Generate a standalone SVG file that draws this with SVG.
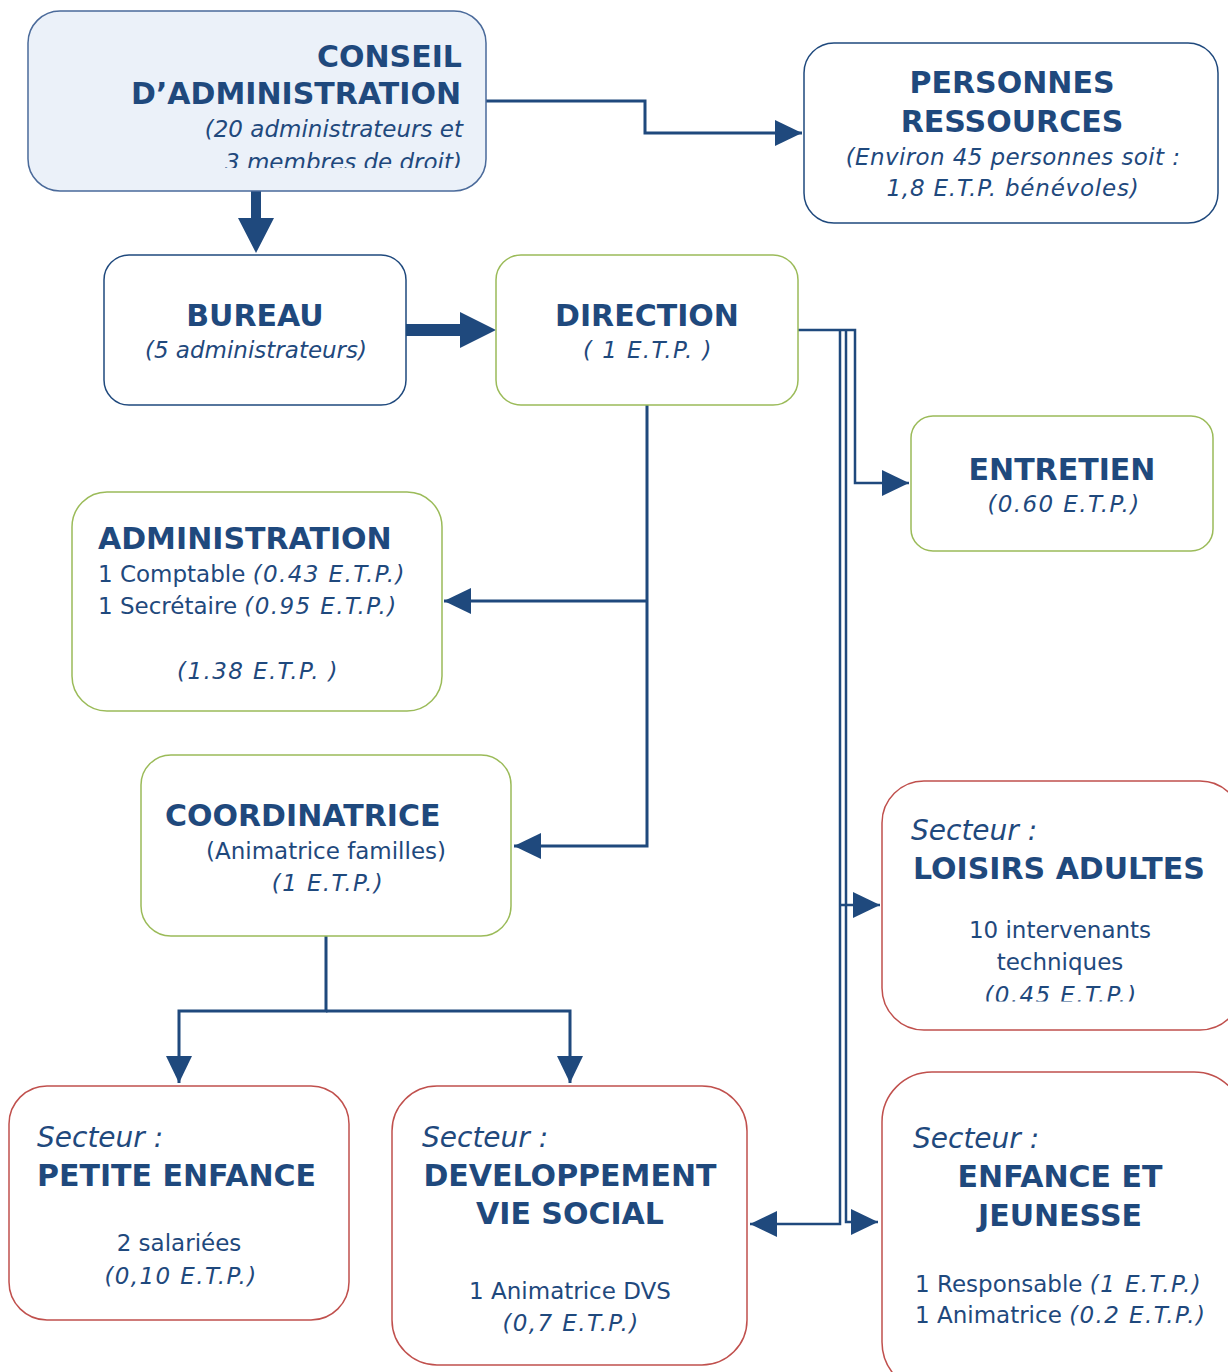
<svg xmlns="http://www.w3.org/2000/svg" width="1228" height="1372" viewBox="0 0 1228 1372">
<style>
text { font-family: "DejaVu Sans", Verdana, sans-serif; fill: #1F497D; }
.b { font-weight: bold; font-size: 30px; }
.r { font-size: 23px; }
.i { font-size: 23px; font-style: italic; }
.s { font-size: 28px; font-style: italic; }
.et { letter-spacing: 1.4px; }
.m { text-anchor: middle; }
.e { text-anchor: end; }
.blue { fill: #ffffff; stroke: #1F497D; stroke-width: 1.5; }
.green { fill: #ffffff; stroke: #9BBB59; stroke-width: 1.5; }
.red { fill: #ffffff; stroke: #C0504D; stroke-width: 1.5; }
.ln { fill: none; stroke: #1F497D; stroke-width: 3; }
.ln2 { fill: none; stroke: #1F497D; stroke-width: 2.5; }
.blk { fill: #1F497D; }
</style>
<defs>
<marker id="ah" markerUnits="userSpaceOnUse" markerWidth="28" markerHeight="28" refX="27" refY="13" orient="auto">
<path d="M0,0 L27,13 L0,26 z" fill="#1F497D"/>
</marker>
<clipPath id="c1"><rect x="0" y="0" width="1228" height="168"/></clipPath>
<clipPath id="c2"><rect x="0" y="0" width="1228" height="1001.5"/></clipPath>
</defs>

<g id="connectors">
<path class="ln" d="M486,101 H645 V133 H802" marker-end="url(#ah)"/>
<polygon class="blk" points="251,191 261,191 261,218 274,218 256,253 238,218 251,218"/>
<polygon class="blk" points="406,324 460,324 460,312 496,330 460,348 460,336 406,336"/>
<path class="ln" d="M647,405 V846 H514" marker-end="url(#ah)"/>
<path class="ln" d="M647,601 H444" marker-end="url(#ah)"/>
<path class="ln2" d="M798,330 H855 V483 H909" marker-end="url(#ah)"/>
<path class="ln2" d="M846,330 V1222 H878" marker-end="url(#ah)"/>
<path class="ln2" d="M840,330 V1224 H750" marker-end="url(#ah)"/>
<path class="ln2" d="M840,905 H880" marker-end="url(#ah)"/>
<path class="ln" d="M326,936 V1011 H179 V1083" marker-end="url(#ah)"/>
<path class="ln" d="M326,1011 H570 V1083" marker-end="url(#ah)"/>
</g>

<g id="conseil">
<rect x="28" y="11" width="458" height="180" rx="32" fill="#EBF1F9" stroke="#4A6A9A" stroke-width="1.5"/>
<text class="b e" x="462" y="67">CONSEIL</text>
<text class="b e" x="461" y="104">D’ADMINISTRATION</text>
<text class="i e" x="463" y="137">(20 administrateurs et</text>
<text class="i e" x="462" y="169.5" clip-path="url(#c1)">3 membres de droit)</text>
</g>

<g id="personnes">
<rect class="blue" x="804" y="43" width="414" height="180" rx="30"/>
<text class="b m" x="1012" y="93">PERSONNES</text>
<text class="b m" x="1012" y="132">RESSOURCES</text>
<text class="i m" x="1013" y="165" style="letter-spacing:0.4px">(Environ 45 personnes soit :</text>
<text class="i m" x="1013" y="196" style="letter-spacing:0.8px">1,8 E.T.P. bénévoles)</text>
</g>

<g id="bureau">
<rect class="blue" x="104" y="255" width="302" height="150" rx="25"/>
<text class="b m" x="255" y="326">BUREAU</text>
<text class="i m" x="256" y="358">(5 administrateurs)</text>
</g>

<g id="direction">
<rect class="green" x="496" y="255" width="302" height="150" rx="25"/>
<text class="b m" x="647" y="326">DIRECTION</text>
<text class="i m et" x="648" y="358">( 1 E.T.P. )</text>
</g>

<g id="entretien">
<rect class="green" x="911" y="416" width="302" height="135" rx="22"/>
<text class="b m" x="1062" y="480">ENTRETIEN</text>
<text class="i m et" x="1064" y="512">(0.60 E.T.P.)</text>
</g>

<g id="administration">
<rect class="green" x="72" y="492" width="370" height="219" rx="35"/>
<text class="b" x="98" y="549">ADMINISTRATION</text>
<text class="r" x="98" y="582">1 Comptable <tspan class="i et">(0.43 E.T.P.)</tspan></text>
<text class="r" x="98" y="614">1 Secrétaire <tspan class="i et">(0.95 E.T.P.)</tspan></text>
<text class="i m et" x="258" y="679">(1.38 E.T.P. )</text>
</g>

<g id="coordinatrice">
<rect class="green" x="141" y="755" width="370" height="181" rx="30"/>
<text class="b" x="165" y="826">COORDINATRICE</text>
<text class="r m" x="326" y="859">(Animatrice familles)</text>
<text class="i m et" x="328" y="891">(1 E.T.P.)</text>
</g>

<g id="petite-enfance">
<rect class="red" x="9" y="1086" width="340" height="234" rx="38"/>
<text class="s" x="37" y="1147">Secteur :</text>
<text class="b" x="37" y="1186">PETITE ENFANCE</text>
<text class="r m" x="179" y="1251">2 salariées</text>
<text class="i m et" x="181" y="1284">(0,10 E.T.P.)</text>
</g>

<g id="dvs">
<rect class="red" x="392" y="1086" width="355" height="279" rx="45"/>
<text class="s" x="422" y="1147">Secteur :</text>
<text class="b m" x="570" y="1186">DEVELOPPEMENT</text>
<text class="b m" x="570" y="1224">VIE SOCIAL</text>
<text class="r m" x="570" y="1299">1 Animatrice DVS</text>
<text class="i m et" x="571" y="1331">(0,7 E.T.P.)</text>
</g>

<g id="loisirs">
<rect class="red" x="882" y="781" width="360" height="249" rx="42"/>
<text class="s" x="911" y="840">Secteur :</text>
<text class="b" x="913" y="879">LOISIRS ADULTES</text>
<text class="r m" x="1060" y="938">10 intervenants</text>
<text class="r m" x="1060" y="970">techniques</text>
<text class="i m et" x="1061" y="1002.5" clip-path="url(#c2)">(0.45 E.T.P.)</text>
</g>

<g id="enfance">
<rect class="red" x="882" y="1072" width="362" height="320" rx="50"/>
<text class="s" x="913" y="1148">Secteur :</text>
<text class="b m" x="1060" y="1187">ENFANCE ET</text>
<text class="b m" x="1060" y="1226">JEUNESSE</text>
<text class="r" x="915" y="1292">1 Responsable <tspan class="i et">(1 E.T.P.)</tspan></text>
<text class="r" x="915" y="1323">1 Animatrice <tspan class="i et">(0.2 E.T.P.)</tspan></text>
</g>
</svg>
